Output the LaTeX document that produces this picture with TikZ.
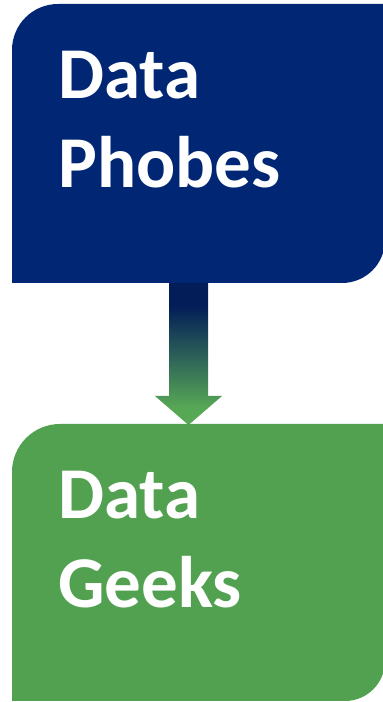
\documentclass[tikz,border=0pt]{standalone}
\usepackage{fontspec}
\setmainfont{Carlito}
\definecolor{boxnavy}{HTML}{012774}
\definecolor{boxgreen}{HTML}{52A150}
\definecolor{arrownavy}{HTML}{021D57}
\definecolor{arrowteal}{HTML}{2B5E58}
\definecolor{arrowgreen}{HTML}{57A855}
\pgfdeclareverticalshading{arrowshade}{100bp}{color(0bp)=(arrowgreen); color(31bp)=(arrowgreen); color(50bp)=(arrowteal); color(67bp)=(arrownavy); color(100bp)=(arrownavy)}
\tikzset{
  boxtext/.style={anchor=base west, inner sep=0pt, text=white, font=\fontsize{73}{89}\selectfont\bfseries},
}
\begin{document}
\begin{tikzpicture}[x=1pt,y=1pt]
\useasboundingbox (0,0) rectangle (383,702);
% top box
\fill[boxnavy] (12,419) -- (12,652) arc[start angle=180, end angle=90, radius=46] -- (385,698) -- (385,462) arc[start angle=0, end angle=-90, radius=43] -- cycle;
% bottom box
\fill[boxgreen] (12,1) -- (12,230) arc[start angle=180, end angle=90, radius=48] -- (385,278) -- (385,41) arc[start angle=0, end angle=-90, radius=40] -- cycle;
\coordinate (arrowtop) at (188.5,419);
\coordinate (arrowtip) at (188.5,277);
% block arrow
\shade[shading=arrowshade] ([xshift=-19.5]arrowtop) -- ([xshift=-19.5]arrowtop |- 0,306) -- ([xshift=-33.5]arrowtop |- 0,306) -- (arrowtip) -- ([xshift=33.5]arrowtop |- 0,306) -- ([xshift=19.5]arrowtop |- 0,306) -- ([xshift=19.5]arrowtop) -- cycle;
\node[boxtext] (phobesA) at (58,603) {Data};
\node[boxtext] (phobesB) at (58,514) {Phobes};
\node[boxtext] (geeksA) at (58,183) {Data};
\node[boxtext] (geeksB) at (58,94) {Geeks};
\end{tikzpicture}
\end{document}
